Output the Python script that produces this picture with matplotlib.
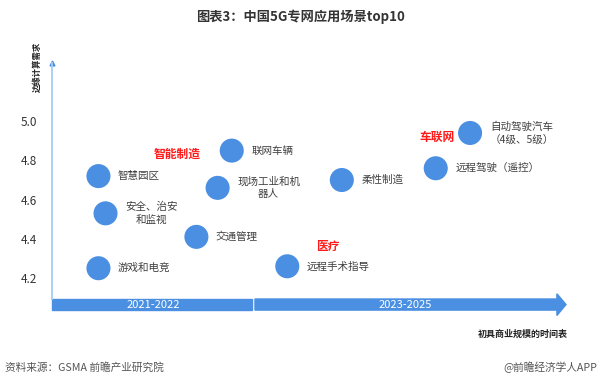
import matplotlib
matplotlib.use("Agg")
import matplotlib.pyplot as plt
from matplotlib.patches import Rectangle, Polygon

plt.rcParams['font.family'] = ['Noto Sans CJK SC', 'DejaVu Sans']

# scenario bubbles: x = year when it reaches commercial scale, y = edge computing demand
scenarios = ['智慧园区', '安全、治安\n和监视', '游戏和电竞', '交通管理', '现场工业和机\n器人',
             '联网车辆', '远程手术指导', '柔性制造', '远程驾驶（遥控）', '自动驾驶汽车\n（4级、5级）']
years = [2021.46, 2021.53, 2021.46, 2022.43, 2022.64, 2022.78, 2023.33, 2023.87, 2024.80, 2025.14]
demand = [4.72, 4.53, 4.25, 4.41, 4.66, 4.85, 4.26, 4.70, 4.76, 4.94]

# industry group labels (red)
groups = ['智能制造', '车联网', '医疗']
group_years = [2022.24, 2024.81, 2023.73]
group_demand = [4.83, 4.92, 4.36]

periods = ['2021-2022', '2023-2025']
period_edges = [2021, 2023, 2026]
y_ticks = [4.2, 4.4, 4.6, 4.8, 5.0]

blue = '#4a8fe2'

fig = plt.figure(figsize=(6, 3.8), dpi=100)
ax = fig.add_axes([52 / 600, (380 - 299) / 380, 514 / 600, 236 / 380])
ax.set_xlim(2021, 2026.09)
ax.set_ylim(4.093, 5.297)

ax.scatter(years, demand, s=300, color=blue, edgecolors='none', zorder=3)
for name, x, y in zip(scenarios, years, demand):
    ax.annotate(name, (x, y), xytext=(14, 0), textcoords='offset points',
                ha='left', va='center', multialignment='center',
                fontsize=7.6, color='#404040', linespacing=1.25)

for g, x, y in zip(groups, group_years, group_demand):
    ax.text(x, y, g, ha='center', va='center', fontsize=8.5, color='#ff1a1a',
            fontweight='bold')

# axes styling
for side in ['top', 'right', 'bottom']:
    ax.spines[side].set_visible(False)
ax.spines['left'].set_color('#a8cbf2')
ax.spines['left'].set_linewidth(1.3)
ax.set_xticks([])
ax.set_yticks(y_ticks)
ax.set_yticklabels([f'{t:.1f}' for t in y_ticks])
ax.tick_params(axis='y', length=0, pad=11, labelsize=8.5, labelcolor='#333333')
ax.plot([0], [1], marker='^', markersize=3.5, color=blue, transform=ax.transAxes,
        clip_on=False)

# timeline arrow at the bottom
tr = ax.get_xaxis_transform()
bar_top, bar_bot = 0.0, -0.047
ax.add_patch(Rectangle((period_edges[0], bar_bot), period_edges[1] - period_edges[0] - 0.02,
                       bar_top - bar_bot, transform=tr, color=blue, clip_on=False))
tip = 2026.09
ax.add_patch(Polygon([(period_edges[1] + 0.01, bar_top), (period_edges[2], bar_top),
                      (period_edges[2], 0.022), (tip, (bar_top + bar_bot) / 2),
                      (period_edges[2], -0.070), (period_edges[2], bar_bot),
                      (period_edges[1] + 0.01, bar_bot)],
                     closed=True, transform=tr, color=blue, clip_on=False))
for label, a, b in zip(periods, period_edges[:-1], period_edges[1:]):
    ax.text((a + b) / 2, (bar_top + bar_bot) / 2, label, transform=tr, ha='center',
            va='center', fontsize=8, color='white')

fig.text(568 / 600, (380 - 334) / 380, '初具商业规模的时间表', ha='right', va='center',
         fontsize=6.5, fontweight='bold', color='#222222')
fig.text(37 / 600, (380 - 67) / 380, '边缘计算需求', rotation=90, ha='center', va='center',
         fontsize=6, fontweight='bold', color='#222222')

fig.text(0.5, (380 - 17) / 380, '图表3：中国5G专网应用场景top10', ha='center', va='center',
         fontsize=9.5, fontweight='bold', color='#333333')
fig.text(5 / 600, (380 - 367) / 380, '资料来源：GSMA 前瞻产业研究院', ha='left', va='center',
         fontsize=7.7, color='#555555')
fig.text(597 / 600, (380 - 367) / 380, '@前瞻经济学人APP', ha='right', va='center',
         fontsize=7.7, color='#555555')

fig.savefig('out.png', dpi=100)
